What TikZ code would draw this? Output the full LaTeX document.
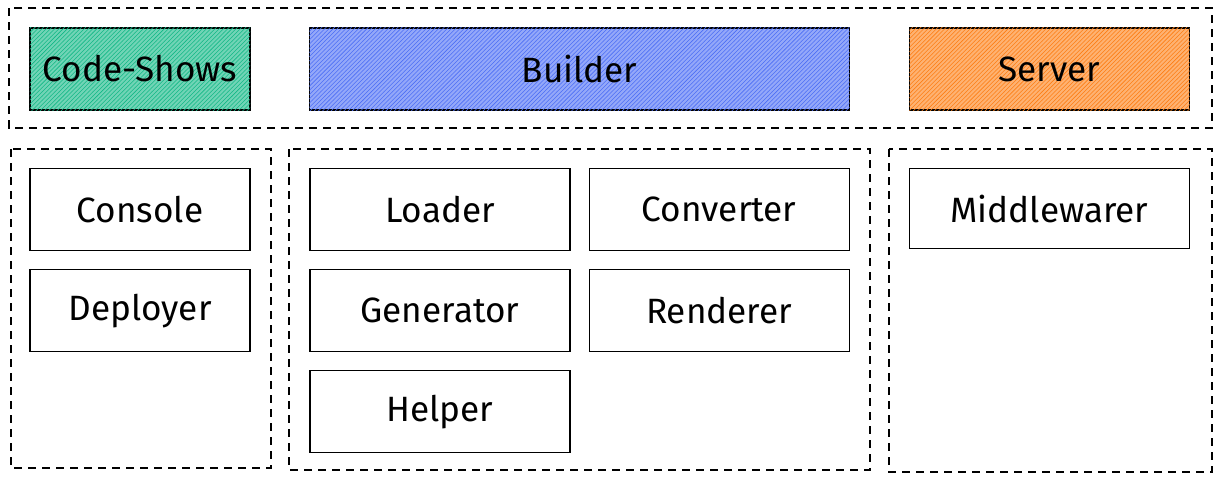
\documentclass[tikz,border=0pt]{standalone}
\usepackage{fontspec}
\setmainfont{Fira Sans}
\usetikzlibrary{positioning,patterns}

\definecolor{showsgreen}{HTML}{12B886}
\definecolor{builderblue}{HTML}{4C6EF5}
\definecolor{serverorange}{HTML}{FD7E14}

\begin{document}
\begin{tikzpicture}[x=0.025cm,y=-0.025cm,node distance=0.45cm,
  module/.style={draw,line width=0.8pt,minimum width=6.5cm,minimum height=2.05cm,font=\fontsize{25}{30}\selectfont},
  layer/.style={module,minimum width=5.5cm},
  hatched/.style={fill=#1!60,postaction={pattern=north east lines,pattern color=#1}},
  group/.style={draw,line width=0.8pt,dash pattern=on 0.2cm off 0.15cm}]

\useasboundingbox (0,0) rectangle (1220,480);

% dashed groups
\draw[group] (9,8) rectangle (1212,128);
\draw[group] (11,149) rectangle (271,468);
\draw[group] (289,149) rectangle (870,470);
\draw[group] (889,149) rectangle (1212,472);

% top layer
\node[layer,hatched=showsgreen] (shows) at (140,69) {Code-Shows};
\node[layer,hatched=builderblue,minimum width=13.5cm] (builder) at (579.5,69) {Builder};
\node[layer,hatched=serverorange,minimum width=7cm] (server) at (1049.5,69) {Server};

% code-shows modules
\node[layer] (console) at (140,209.5) {Console};
\node[layer] (deployer) [below=of console] {Deployer};

% builder modules
\node[module] (loader) at (440,209.5) {Loader};
\node[module] (converter) [right=of loader] {Converter};
\node[module] (generator) [below=of loader] {Generator};
\node[module] (renderer) [right=of generator] {Renderer};
\node[module] (helper) [below=of generator] {Helper};

% server modules
\node[module,minimum width=7cm,minimum height=2cm] (middlewarer) at (1049.5,208.5) {Middlewarer};

\end{tikzpicture}
\end{document}
